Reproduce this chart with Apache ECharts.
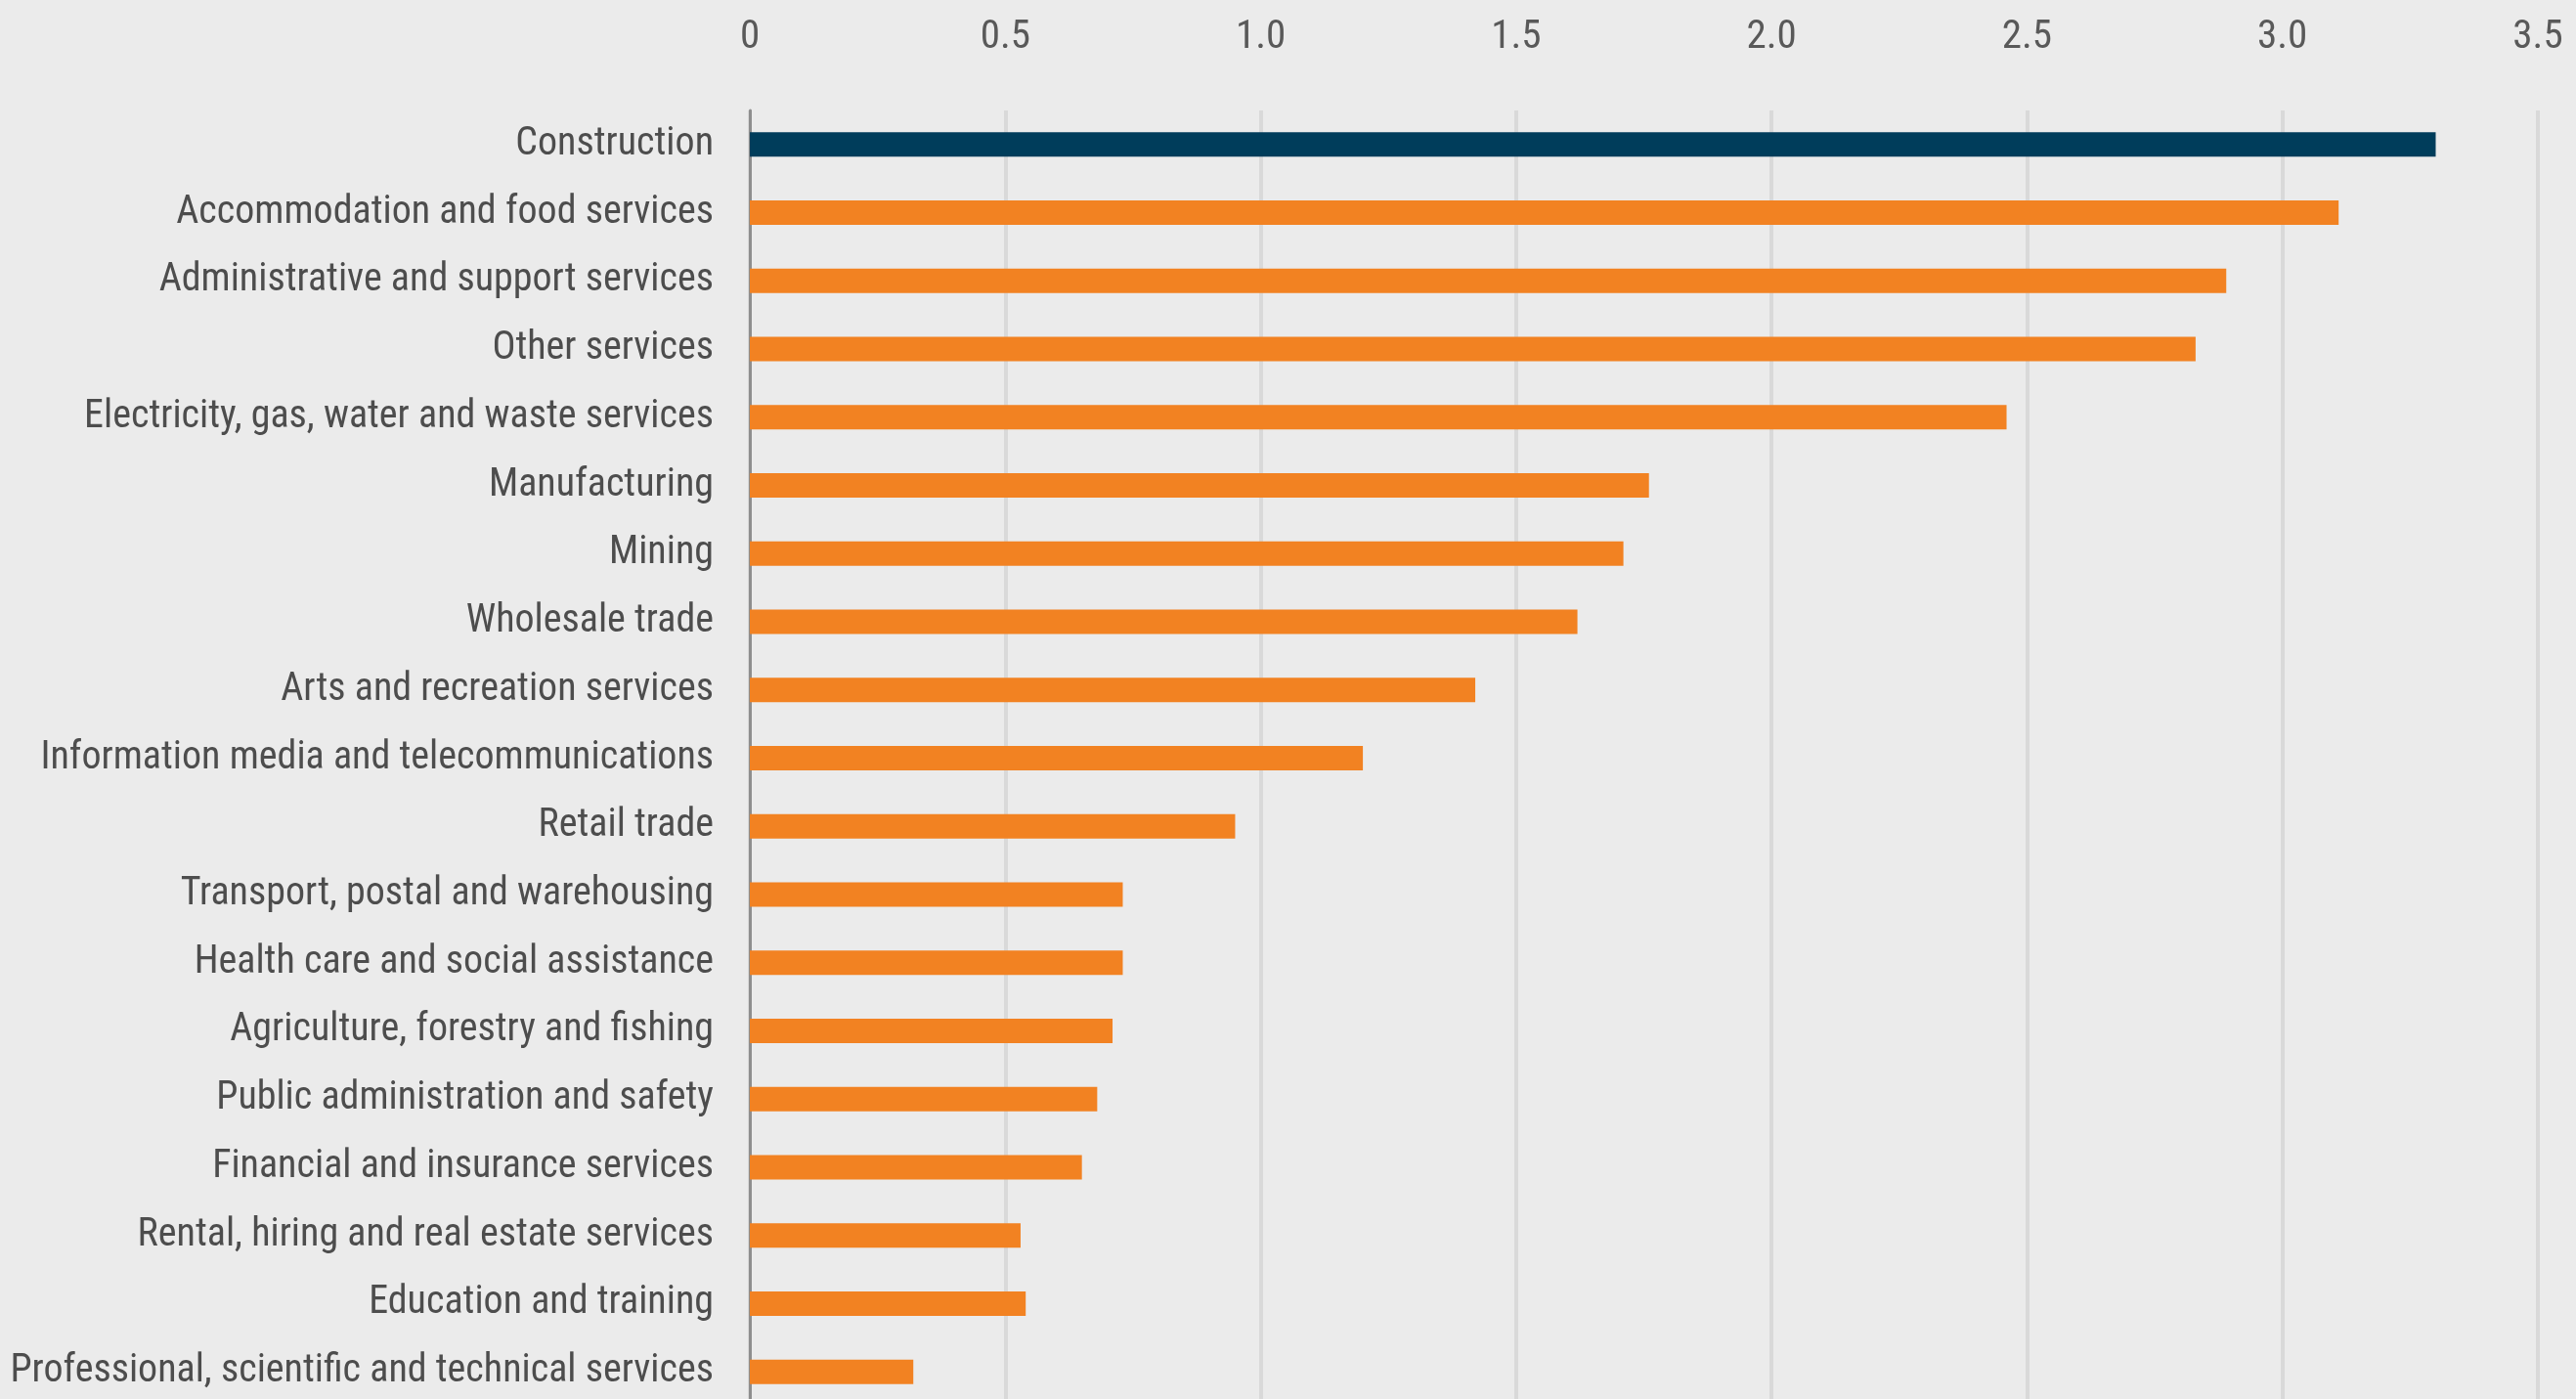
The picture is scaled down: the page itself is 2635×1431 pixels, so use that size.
<!DOCTYPE html>
<html>
<head>
<meta charset="utf-8">
<title>Industry chart</title>
<script src="https://cdn.jsdelivr.net/npm/echarts@6/dist/echarts.min.js"></script>
<style>
  html, body {
    margin: 0;
    padding: 0;
    background: #ebebeb;
  }
  #chart {
    width: 2635px;
    height: 1431px;
  }
</style>
</head>
<body>
<div id="chart"></div>
<script>
// 行业名称（自上而下）
const categories = [
  'Construction',
  'Accommodation and food services',
  'Administrative and support services',
  'Other services',
  'Electricity, gas, water and waste services',
  'Manufacturing',
  'Mining',
  'Wholesale trade',
  'Arts and recreation services',
  'Information media and telecommunications',
  'Retail trade',
  'Transport, postal and warehousing',
  'Health care and social assistance',
  'Agriculture, forestry and fishing',
  'Public administration and safety',
  'Financial and insurance services',
  'Rental, hiring and real estate services',
  'Education and training',
  'Professional, scientific and technical services'
]

// 数值
const values = [
  3.30, 3.11, 2.89, 2.83, 2.46, 1.76, 1.71, 1.62, 1.42, 1.20,
  0.95, 0.73, 0.73, 0.71, 0.68, 0.65, 0.53, 0.54, 0.32
]

// 突出显示的行业
const highlighted = ['Construction']

const fontFamily = '"Roboto Condensed", "Open Sans Condensed", sans-serif'

const mChart = echarts.init(document.getElementById('chart'))

const options = {
  backgroundColor: '#ebebeb',
  animation: false,
  grid: {
    top: 113,
    left: 767,
    right: 39,
    bottom: -7,
    containLabel: false,
    outerBoundsMode: 'none'
  },
  xAxis: {
    type: 'value',
    position: 'top',
    min: 0,
    max: 3.5,
    interval: 0.5,
    axisLine: { show: false },
    axisTick: { show: false },
    axisLabel: {
      margin: 54,
      fontSize: 41,
      fontFamily: fontFamily,
      color: '#595959',
      formatter: v => (v === 0 ? '0' : v.toFixed(1))
    },
    splitLine: {
      lineStyle: {
        color: '#d9d9d9',
        width: 4
      }
    }
  },
  yAxis: {
    type: 'category',
    inverse: true,
    data: categories,
    axisTick: { show: false },
    axisLine: {
      lineStyle: {
        color: '#8e8e8e',
        width: 3
      }
    },
    axisLabel: {
      margin: 37,
      fontSize: 40,
      fontFamily: fontFamily,
      color: '#4d4d4d'
    }
  },
  series: [
    {
      type: 'bar',
      barWidth: 25,
      data: values.map((v, i) => ({
        value: v,
        itemStyle: {
          color: highlighted.includes(categories[i]) ? '#003d5b' : '#f28222'
        }
      }))
    }
  ]
}
mChart.setOption(options)
</script>
</body>
</html>
